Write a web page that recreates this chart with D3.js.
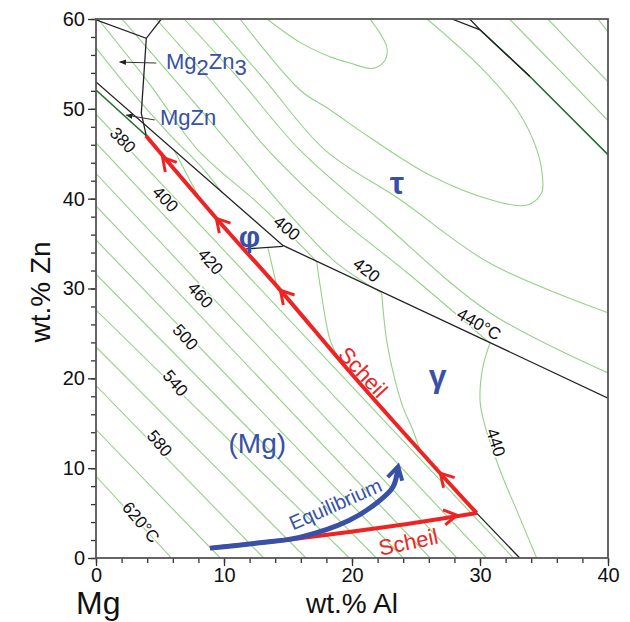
<!DOCTYPE html>
<html>
<head>
<meta charset="utf-8">
<script src="https://cdn.jsdelivr.net/npm/d3@7"></script>
<style>
  body { margin: 0; background: #fff; }
  svg text { font-family: Arial, "Liberation Sans", sans-serif; }
</style>
</head>
<body>
<div id="chart"></div>
<script>
// axis ticks
const xTickMajor = [0, 10, 20, 30, 40];
const yTickMajor = [0, 10, 20, 30, 40, 50, 60];
const xTickMinor = d3.range(0, 41, 2);
const yTickMinor = d3.range(0, 61, 2);

// (Mg) field isotherms: Zn where they meet the Zn axis, Al where they meet the Al axis
const mgIsoZnEnd = [9.1, 14.3, 19.2, 23.5, 27.6, 31.6, 35.4, 39.2, 42.8, 46.2, 49.4];
const mgIsoAlEnd = [5.9, 9.7, 13.1, 16.4, 19.8, 21.9, 24.0, 26.1, 28.2, 30.5, 32.6];

// tau / Mg2Zn3 field isotherms [Al, Zn]
const tau380 = [[0, 56.8], [2.66, 52.1], [5.78, 47.1], [8.13, 43.7], [9.84, 40.7]];
const tau400 = [[0.16, 60], [4.22, 52.7], [7.97, 45.4], [12.8, 39.3], [17.24, 33.0]];
const tau420 = [[2.03, 60], [6.17, 53.2], [10.86, 45.4], [15.16, 38.2], [18.67, 33.0], [22.32, 29.5]];
const tau440 = [[4.69, 60], [8.9, 53.2], [13.44, 45.4], [18.28, 38.7], [24.53, 31.5], [30.78, 23.9]];
const tau460 = [[6.88, 60], [11.25, 53.2], [15.94, 45.4], [22.19, 37.6], [30.78, 27.3], [40, 20.6]];
const tau480 = [[9.06, 60], [13.2, 53.2], [17.9, 45.4], [23.75, 39.9], [30.78, 32.8], [40, 27.3]];
const tauLoopOuter = [[11.25, 60], [15.94, 52.1], [18.28, 49.9], [21.4, 46.8], [26.1, 42.6], [30.78, 39.9],
  [33.7, 39.3], [34.8, 40.6], [34.9, 42.1], [34.45, 45.4], [32.9, 49.9], [30.0, 54.7], [25.86, 60]];
const tauLoopInner = [[13.36, 60], [15.94, 57.4], [18.28, 55.8], [19.84, 55.1], [21.64, 54.5], [22.58, 55.4],
  [22.73, 56.8], [22.19, 58.4], [21.4, 60]];
const rightIso = [
  [[32.3, 60], [36.2, 54.3], [40, 48.7]],
  [[35.3, 60], [37.7, 56.4], [40, 53.0]],
  [[39.2, 60], [40, 58.6]]
];

// gamma and phi field isotherms
const gamma400 = [[17.24, 33.0], [17.5, 30.4], [18.28, 24.3], [18.9, 22.4]];
const gamma420 = [[22.32, 29.5], [22.7, 24.3], [23.36, 19.8], [23.98, 16.8], [24.77, 14.2], [25.39, 11.6]];
const gamma440 = [[30.78, 23.9], [30.23, 21.3], [30.0, 17.6], [30.26, 15.4], [31.56, 9.8], [32.87, 5.3], [34.43, 0]];
const phiIso = [
  [[6.1, 45.4], [8.1, 40.0]],
  [[13.44, 34.5], [14.2, 29.8]]
];

// phase boundaries
const darkGreenLines = [
  [[0, 52.1], [3.93, 47.0]],
  [[30.0, 58.8], [33.9, 53.6], [40, 44.9]]
];
const blackLines = [
  [[0, 53.0], [14.6, 34.8], [40, 17.8]],
  [[0, 59.9], [3.93, 57.85], [5.1, 60]],
  [[3.93, 57.85], [3.54, 49.5], [3.93, 47.0]],
  [[11.72, 34.4], [14.6, 34.7]],
  [[29.74, 5.0], [33.1, 0]],
  [[27.8, 60], [30.0, 58.8], [33.9, 53.6]],
  [[29.2, 60], [30.0, 58.8]]
];

// solidification paths (in the order they are followed)
const scheilUpper = [[29.74, 5.0], [27.1, 9.1], [19.84, 20.7], [14.53, 29.6], [9.53, 37.6], [3.9, 47.0]];
const scheilLower = [[8.9, 1.1], [15.9, 2.2], [23.75, 3.67], [29.74, 5.0]];
const equilibrium = [[8.9, 1.1], [12.8, 1.7], [15.9, 2.3], [19.8, 4.2], [21.9, 6.1], [23.2, 7.9], [23.6, 10.2]];
const scheilUpperArrows = [[26.9, 9.45], [14.4, 29.8], [9.4, 37.8], [5.2, 44.6]];
const scheilLowerArrows = [[28.2, 4.75]];

// isotherm labels
const isoLabels = [
  { t: '620°C', x: 3.52, y: 4.0, a: 50 },
  { t: '580', x: 4.98, y: 12.77, a: 50 },
  { t: '540', x: 6.21, y: 19.48, a: 50 },
  { t: '500', x: 6.99, y: 24.6, a: 48 },
  { t: '460', x: 8.16, y: 29.28, a: 48 },
  { t: '420', x: 8.95, y: 33.0, a: 48 },
  { t: '400', x: 5.43, y: 39.96, a: 46 },
  { t: '380', x: 2.11, y: 46.53, a: 46 },
  { t: '400', x: 14.92, y: 36.74, a: 40 },
  { t: '420', x: 21.15, y: 32.06, a: 38 },
  { t: '440°C', x: 29.92, y: 26.05, a: 30 },
  { t: '440', x: 31.25, y: 12.86, a: 72 }
];

const width = 630, height = 622;
const x = d3.scaleLinear().domain([0, 40]).range([96, 608]);
const y = d3.scaleLinear().domain([0, 60]).range([558, 19]);

const svg = d3.select('#chart').append('svg')
  .attr('width', width).attr('height', height);

svg.append('clipPath').attr('id', 'clip')
  .append('rect')
  .attr('x', x(0)).attr('y', y(60))
  .attr('width', x(40) - x(0)).attr('height', y(0) - y(60));

const plot = svg.append('g').attr('clip-path', 'url(#clip)');

const straight = d3.line().x(d => x(d[0])).y(d => y(d[1]));
const smooth = d3.line().x(d => x(d[0])).y(d => y(d[1])).curve(d3.curveCatmullRom.alpha(0.5));

const green = '#93d286';
const mgLines = mgIsoZnEnd.map((z, i) => [[0, z], [mgIsoAlEnd[i], 0]]);
const curvedIso = [tau380, tau400, tau420, tau440, tau460, tau480, tauLoopOuter, tauLoopInner,
  gamma400, gamma420, gamma440];

plot.selectAll('.iso-mg').data(mgLines).enter().append('path')
  .attr('d', straight).attr('fill', 'none').attr('stroke', green).attr('stroke-width', 1.1);
plot.selectAll('.iso-c').data(curvedIso).enter().append('path')
  .attr('d', smooth).attr('fill', 'none').attr('stroke', green).attr('stroke-width', 1.1);
plot.selectAll('.iso-s').data(rightIso.concat(phiIso)).enter().append('path')
  .attr('d', smooth).attr('fill', 'none').attr('stroke', green).attr('stroke-width', 1.1);

plot.selectAll('.dg').data(darkGreenLines).enter().append('path')
  .attr('d', straight).attr('fill', 'none').attr('stroke', '#1f6e2c').attr('stroke-width', 1.6);
plot.selectAll('.bk').data(blackLines).enter().append('path')
  .attr('d', straight).attr('fill', 'none').attr('stroke', '#222').attr('stroke-width', 1.3);

// isotherm labels
svg.selectAll('.iso-label').data(isoLabels).enter().append('text')
  .attr('transform', d => `translate(${x(d.x)},${y(d.y)}) rotate(${d.a})`)
  .attr('text-anchor', 'middle').attr('dy', '0.35em')
  .attr('font-size', 17).attr('fill', '#111')
  .attr('stroke', '#fff').attr('stroke-width', 3).attr('paint-order', 'stroke')
  .text(d => d.t);

// annotation arrows for Mg2Zn3 and MgZn
svg.append('defs').append('marker')
  .attr('id', 'tri').attr('viewBox', '0 0 10 10').attr('refX', 9).attr('refY', 5)
  .attr('markerWidth', 7).attr('markerHeight', 7).attr('orient', 'auto')
  .append('path').attr('d', 'M0,1L10,5L0,9Z').attr('fill', '#222');
const pointers = [[[4.71, 55.1], [1.85, 55.2]], [[4.59, 48.76], [2.37, 49.3]]];
svg.selectAll('.ptr').data(pointers).enter().append('path')
  .attr('d', straight).attr('stroke', '#333').attr('stroke-width', 1)
  .attr('marker-end', 'url(#tri)');

// solidification paths
const red = '#ee2424', blue = '#3850a6';
svg.append('path').attr('d', smooth(scheilLower)).attr('fill', 'none')
  .attr('stroke', red).attr('stroke-width', 4);
svg.append('path').attr('d', smooth(scheilUpper)).attr('fill', 'none')
  .attr('stroke', red).attr('stroke-width', 4).attr('stroke-linejoin', 'miter');
svg.append('path').attr('d', smooth(equilibrium)).attr('fill', 'none')
  .attr('stroke', blue).attr('stroke-width', 5).attr('stroke-linecap', 'butt');

function chevron(path, tip, color, len, w) {
  const pts = path.map(p => [x(p[0]), y(p[1])]);
  const t = [x(tip[0]), y(tip[1])];
  let best = 0, bd = Infinity;
  for (let i = 0; i < pts.length - 1; i++) {
    const mx = (pts[i][0] + pts[i + 1][0]) / 2, my = (pts[i][1] + pts[i + 1][1]) / 2;
    const dd = (mx - t[0]) ** 2 + (my - t[1]) ** 2;
    if (dd < bd) { bd = dd; best = i; }
  }
  let dx = pts[best + 1][0] - pts[best][0], dy = pts[best + 1][1] - pts[best][1];
  const n = Math.hypot(dx, dy); dx /= n; dy /= n;
  const ang = 30 * Math.PI / 180;
  const arm = s => [t[0] - len * (dx * Math.cos(ang) - s * dy * Math.sin(ang)),
                    t[1] - len * (dy * Math.cos(ang) + s * dx * Math.sin(ang))];
  const a1 = arm(1), a2 = arm(-1);
  svg.append('path')
    .attr('d', `M${a1[0]},${a1[1]}L${t[0]},${t[1]}L${a2[0]},${a2[1]}`)
    .attr('fill', 'none').attr('stroke', color).attr('stroke-width', w)
    .attr('stroke-linejoin', 'miter');
}
scheilUpperArrows.forEach(p => chevron(scheilUpper, p, red, 15, 3));
scheilLowerArrows.forEach(p => chevron(scheilLower, p, red, 15, 3));
chevron(equilibrium, equilibrium[equilibrium.length - 1], blue, 15, 4);

// phase and path labels
const txt = (px, py, s, size, color, rot, weight) => svg.append('text')
  .attr('transform', `translate(${x(px)},${y(py)}) rotate(${rot || 0})`)
  .attr('text-anchor', 'middle').attr('dy', '0.35em')
  .attr('font-size', size).attr('fill', color).attr('font-weight', weight || 'normal')
  .text(s);
txt(23.5, 41.8, 'τ', 32, blue, 0, 'bold');
txt(12.0, 35.8, 'φ', 30, blue, 0, 'bold');
txt(26.7, 20.3, 'γ', 32, blue, 0, 'bold');
txt(12.6, 12.8, '(Mg)', 28, blue, 0);
txt(20.86, 20.7, 'Scheil', 22, red, 47);
txt(24.4, 1.78, 'Scheil', 22, red, -12);
txt(18.7, 6.0, 'Equilibrium', 20, blue, -24);

const mg2zn3 = svg.append('text').attr('x', x(5.47)).attr('y', y(54.4))
  .attr('font-size', 22).attr('fill', blue);
mg2zn3.append('tspan').text('Mg');
mg2zn3.append('tspan').attr('dy', 6).text('2');
mg2zn3.append('tspan').attr('dy', -6).text('Zn');
mg2zn3.append('tspan').attr('dy', 6).text('3');
svg.append('text').attr('x', x(5.0)).attr('y', y(48.2))
  .attr('font-size', 22).attr('fill', blue).text('MgZn');

// axes
const font = 'Arial, "Liberation Sans", sans-serif';
function styleAxis(g) {
  g.select('.domain').remove();
  g.attr('font-family', font).attr('font-size', 20);
  g.selectAll('.tick line').attr('stroke', '#333').attr('stroke-width', 1.3);
  g.selectAll('.tick text').attr('fill', '#111');
}
svg.append('g').attr('transform', `translate(0,${y(0)})`)
  .call(d3.axisBottom(x).tickValues(xTickMinor).tickSize(5).tickFormat('')).call(styleAxis);
svg.append('g').attr('transform', `translate(0,${y(0)})`)
  .call(d3.axisBottom(x).tickValues(xTickMajor).tickSize(8).tickPadding(2)).call(styleAxis);
svg.append('g').attr('transform', `translate(${x(0)},0)`)
  .call(d3.axisLeft(y).tickValues(yTickMinor).tickSize(5).tickFormat('')).call(styleAxis);
svg.append('g').attr('transform', `translate(${x(0)},0)`)
  .call(d3.axisLeft(y).tickValues(yTickMajor).tickSize(8).tickPadding(3)).call(styleAxis);

svg.append('rect')
  .attr('x', x(0)).attr('y', y(60))
  .attr('width', x(40) - x(0)).attr('height', y(0) - y(60))
  .attr('fill', 'none').attr('stroke', '#555').attr('stroke-width', 1.8);

svg.append('text').attr('x', 352).attr('y', 613).attr('text-anchor', 'middle')
  .attr('font-size', 28).attr('fill', '#111').text('wt.% Al');
svg.append('text').attr('x', 76).attr('y', 614)
  .attr('font-size', 32).attr('fill', '#111').text('Mg');
svg.append('text').attr('transform', 'translate(50,292) rotate(-90)').attr('text-anchor', 'middle')
  .attr('font-size', 28).attr('fill', '#111').text('wt.% Zn');
</script>
</body>
</html>
